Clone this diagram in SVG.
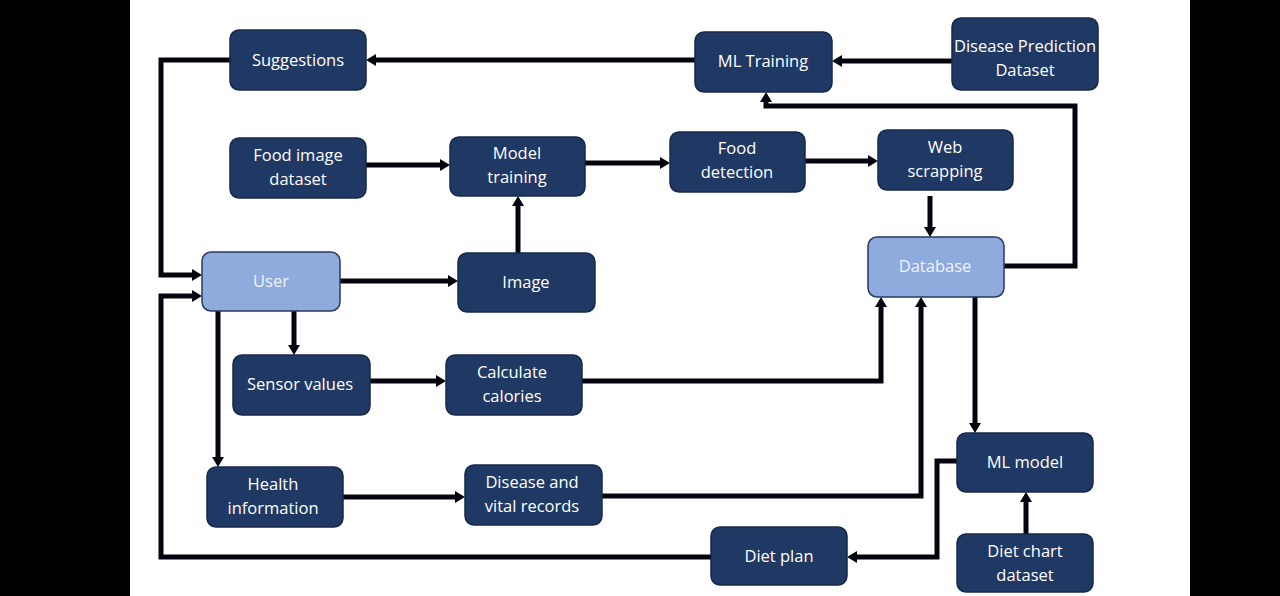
<svg xmlns="http://www.w3.org/2000/svg" width="1280" height="596" viewBox="0 0 1280 596">
<style>
.n{fill:#203864;stroke:#16284a;stroke-width:1.5}
.l{fill:#8FAADC;stroke:#2a3a5c;stroke-width:1.5}
.t{fill:#ffffff;font-family:"Open Sans","Liberation Sans",sans-serif;font-size:16.5px;text-anchor:middle}
.tl{fill:#eef3fb;font-family:"Open Sans","Liberation Sans",sans-serif;font-size:16.5px;text-anchor:middle}
.c{fill:none;stroke:#05050f;stroke-width:5;marker-end:url(#a)}
.c2{fill:none;stroke:#05050f;stroke-width:5}
</style>
<defs>
<marker id="a" markerUnits="userSpaceOnUse" markerWidth="10" markerHeight="12" refX="2" refY="6" orient="auto">
<path d="M0,0 L10,6 L0,12 z" fill="#05050f"/>
</marker>
</defs>
<rect x="0" y="0" width="1280" height="596" fill="#ffffff"/>
<rect x="0" y="0" width="130" height="596" fill="#000"/>
<rect x="1190" y="0" width="90" height="596" fill="#000"/>
<g id="connectors">
<path class="c" d="M695,60 H374"/>
<path class="c" d="M952,61 H840"/>
<path class="c" d="M230,60 H161 V275 H194"/>
<path class="c" d="M366,165 H442"/>
<path class="c" d="M518,253 V204"/>
<path class="c" d="M340,281 H450"/>
<path class="c" d="M585,163 H662"/>
<path class="c" d="M805,161 H870"/>
<path class="c" d="M930,196 V229"/>
<path class="c" d="M1004,266 H1075 V106 H766 V100"/>
<path class="c" d="M294,311 V347"/>
<path class="c" d="M370,381 H438"/>
<path class="c" d="M582,381 H881 V305"/>
<path class="c" d="M218,311 V459"/>
<path class="c" d="M343,497 H457"/>
<path class="c" d="M602,496 H921 V305"/>
<path class="c" d="M975,297 V425"/>
<path class="c" d="M957,461 H937 V557 H855"/>
<path class="c" d="M1026,534 V500"/>
<path class="c" d="M711,557 H161 V296 H194"/>
</g>
<g id="suggestions"><rect class="n" x="230" y="30" width="136" height="60" rx="9"/><text class="t" x="298" y="66">Suggestions</text></g>
<g id="ml-training"><rect class="n" x="695" y="32" width="137" height="60" rx="9"/><text class="t" x="763" y="67">ML Training</text></g>
<g id="disease-prediction"><rect class="n" x="952" y="18" width="146" height="72" rx="9"/><text class="t" x="1025" y="52">Disease Prediction</text><text class="t" x="1025" y="76">Dataset</text></g>
<g id="food-image-dataset"><rect class="n" x="230" y="138" width="136" height="60" rx="9"/><text class="t" x="298" y="161">Food image</text><text class="t" x="298" y="185">dataset</text></g>
<g id="model-training"><rect class="n" x="450" y="137" width="135" height="59" rx="9"/><text class="t" x="517" y="159">Model</text><text class="t" x="517" y="183">training</text></g>
<g id="food-detection"><rect class="n" x="670" y="132" width="135" height="60" rx="9"/><text class="t" x="737" y="154">Food</text><text class="t" x="737" y="178">detection</text></g>
<g id="web-scrapping"><rect class="n" x="878" y="130" width="135" height="60" rx="9"/><text class="t" x="945" y="153">Web</text><text class="t" x="945" y="177">scrapping</text></g>
<g id="user"><rect class="l" x="202" y="252" width="138" height="59" rx="9"/><text class="tl" x="271" y="287">User</text></g>
<g id="image"><rect class="n" x="458" y="253" width="137" height="59" rx="9"/><text class="t" x="526" y="288">Image</text></g>
<g id="database"><rect class="l" x="868" y="237" width="136" height="60" rx="9"/><text class="tl" x="935" y="272">Database</text></g>
<g id="sensor-values"><rect class="n" x="233" y="355" width="137" height="60" rx="9"/><text class="t" x="300" y="390">Sensor values</text></g>
<g id="calculate-calories"><rect class="n" x="446" y="355" width="136" height="60" rx="9"/><text class="t" x="512" y="378">Calculate</text><text class="t" x="512" y="402">calories</text></g>
<g id="health-information"><rect class="n" x="207" y="467" width="136" height="60" rx="9"/><text class="t" x="273" y="490">Health</text><text class="t" x="273" y="514">information</text></g>
<g id="disease-vital"><rect class="n" x="465" y="465" width="137" height="60" rx="9"/><text class="t" x="532" y="488">Disease and</text><text class="t" x="532" y="512">vital records</text></g>
<g id="ml-model"><rect class="n" x="957" y="433" width="136" height="59" rx="9"/><text class="t" x="1025" y="468">ML model</text></g>
<g id="diet-plan"><rect class="n" x="711" y="527" width="136" height="58" rx="9"/><text class="t" x="779" y="562">Diet plan</text></g>
<g id="diet-chart"><rect class="n" x="957" y="534" width="136" height="58" rx="9"/><text class="t" x="1025" y="557">Diet chart</text><text class="t" x="1025" y="581">dataset</text></g>
</svg>
